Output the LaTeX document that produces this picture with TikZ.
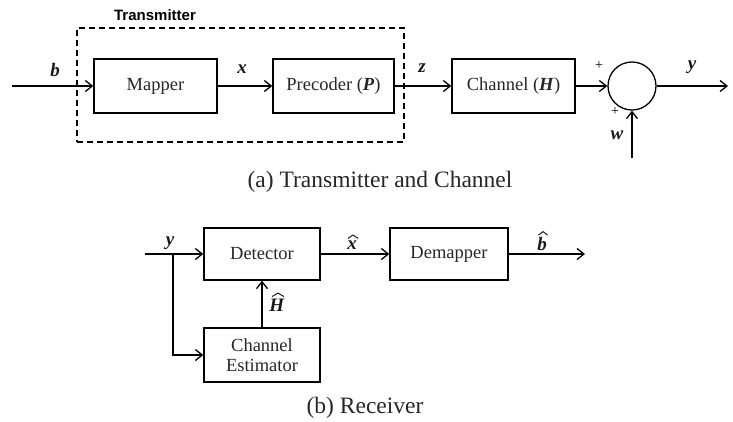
\documentclass[tikz,border=0pt]{standalone}
\usepackage{fontspec}
\setmainfont{Liberation Serif}
\newfontfamily\arialfont{Liberation Sans}
\usetikzlibrary{arrows.meta}
\newcommand\bvec[1]{\textbf{\textit{#1}}}
% draw a wide hat above a named label node: node, half-width, gap
\newcommand\hatover[3]{%
  \draw[hatline] ([xshift=-#2+1pt,yshift=#3]#1.north) -- ([xshift=1pt,yshift=#3+3.5pt]#1.north) -- ([xshift=#2+1pt,yshift=#3]#1.north);}
\begin{document}
\begin{tikzpicture}[x=1pt,y=-1pt,
  box/.style={draw, line width=1.3pt, inner sep=0pt, minimum height=54pt, align=center,
              font=\fontsize{18.5}{22}\selectfont, text=black!85},
  lbl/.style={font=\fontsize{19}{22}\selectfont, text=black!90, inner sep=0pt},
  plus/.style={font=\fontsize{14}{15}\selectfont, inner sep=0pt},
  captext/.style={font=\fontsize{23.5}{26}\selectfont, inner sep=0pt, text=black!85},
  arr/.style={-{Straight Barb[length=7pt,width=11pt]}, line width=1.3pt},
  hatline/.style={line width=1pt, black!90, line join=round}]
\useasboundingbox (0,0) rectangle (733,421);
% Transmitter dashed box
\node[draw, dashed, dash pattern=on 6pt off 4pt, line width=1.8pt, minimum width=327pt, minimum height=114pt, inner sep=0pt] (tx) at (240.5,85) {};
\node[font=\arialfont\bfseries\fontsize{15}{17}\selectfont, inner sep=0pt] (txl) at (155,15) {Transmitter};
% blocks
\node[box, minimum width=123pt] (mapper) at (155.5,86) {Mapper};
\node[box, minimum width=121pt] (prec) at (333.5,86) {Precoder (\bvec{P})};
\node[box, minimum width=123pt] (chan) at (513.5,86) {Channel (\bvec{H})};
\node[draw, circle, line width=1.3pt, minimum size=48pt, inner sep=0pt] (sum) at (632,86) {};
\coordinate (in) at (12,86);
\coordinate (out) at (728,86);
\coordinate (wsrc) at (632,158);
\draw[arr] (in) -- (mapper);
\draw[arr] (mapper) -- (prec);
\draw[arr] (prec) -- (chan);
\draw[arr] (chan) -- (sum);
\draw[arr] (sum) -- (out);
\draw[arr] (wsrc) -- (sum);
\node[lbl] (lb) at (55,70) {\bvec{b}};
\node[lbl] (lx) at (242,69) {\bvec{x}};
\node[lbl] (lz) at (422,68) {\bvec{z}};
\node[lbl] (ly) at (692,67) {\bvec{y}};
\node[lbl] (lw) at (617,135) {\bvec{w}};
\node[plus] (p1) at (599,66) {+};
\node[plus] (p2) at (615,112) {+};
\node[captext] (capa) at (380,182) {(a) Transmitter and Channel};
% Receiver
\node[box, minimum width=116pt, minimum height=52pt] (det) at (262,254) {Detector};
\node[box, minimum width=118pt, minimum height=52pt] (demap) at (449,254) {Demapper};
\node[box, minimum width=116pt, minimum height=54pt] (est) at (262,355) {Channel\\[-2pt]Estimator};
\coordinate (yin) at (145,254);
\coordinate (br) at (173,254);
\coordinate (bout) at (585,254);
\draw[arr] (yin) -- (det);
\draw[arr] (br) |- (est);
\draw[arr] (est) -- (det);
\draw[arr] (det) -- (demap);
\draw[arr] (demap) -- (bout);
\node[lbl] (ly2) at (170,243) {\bvec{y}};
\node[lbl] (lhx) at (352,245) {\bvec{x}};
\node[lbl] (lhb) at (542,244) {\bvec{b}};
\node[lbl] (lhH) at (277,305) {\bvec{H}};
\hatover{lhx}{5pt}{2pt}
\hatover{lhb}{4.5pt}{2pt}
\hatover{lhH}{6pt}{2pt}
\node[captext] (capb) at (365,408) {(b) Receiver};
\end{tikzpicture}
\end{document}
